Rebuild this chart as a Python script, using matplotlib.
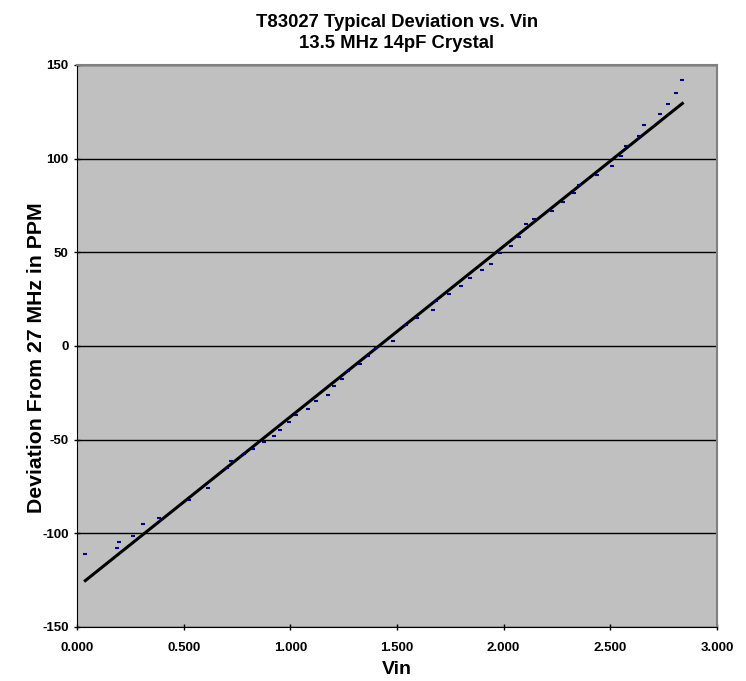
import numpy as np
import matplotlib.pyplot as plt

plt.rcParams['font.family'] = ['Liberation Sans', 'DejaVu Sans']
plt.rcParams['font.weight'] = 'bold'
plt.rcParams['axes.unicode_minus'] = False

# measured points (Vin, deviation in PPM)
vin = [0.039, 0.188, 0.197, 0.264, 0.308, 0.384, 0.525, 0.616, 0.702, 0.724,
       0.781, 0.824, 0.875, 0.924, 0.953, 0.994, 1.028, 1.084, 1.122, 1.178,
       1.203, 1.244, 1.271, 1.328, 1.366, 1.403, 1.483, 1.542, 1.595, 1.669,
       1.683, 1.742, 1.802, 1.844, 1.897, 1.941, 1.983, 2.034, 2.071, 2.106,
       2.144, 2.227, 2.280, 2.332, 2.354, 2.438, 2.507, 2.552, 2.575, 2.636,
       2.660, 2.733, 2.770, 2.807, 2.838]
ppm = [-111.1, -107.9, -104.8, -101.6, -95.0, -92.0, -82.2, -75.6, -65.1, -61.3,
       -57.8, -54.8, -51.4, -48.0, -44.6, -40.7, -37.1, -33.4, -29.6, -25.9,
       -21.6, -17.8, -13.6, -9.8, -5.5, -1.2, 2.5, 11.1, 14.9, 19.4,
       23.9, 27.8, 32.1, 36.4, 40.8, 44.0, 49.5, 53.5, 58.2, 65.1,
       67.6, 72.1, 76.9, 81.5, 86.1, 91.5, 96.1, 101.4, 106.8, 112.3,
       118.0, 123.9, 129.4, 135.1, 141.8]

x_ticks = [0.0, 0.5, 1.0, 1.5, 2.0, 2.5, 3.0]
y_ticks = [-150, -100, -50, 0, 50, 100, 150]

fig = plt.figure(figsize=(7.46, 6.81), dpi=100)
ax = fig.add_axes([0.1032, 0.0793, 0.8578, 0.8253])
ax.set_facecolor('#c0c0c0')

# linear trendline
k, b = np.polyfit(vin, ppm, 1)
xs = np.array([vin[0], vin[-1]])
ax.plot(xs, k * xs + b, color='black', lw=2.2, zorder=3)

ax.plot(vin, ppm, ls='none', marker='_', markersize=3, markeredgewidth=1.5,
        color='#000080', zorder=4)

ax.set_xlim(0, 3)
ax.set_ylim(-150, 150)
ax.set_xticks(x_ticks)
ax.set_xticklabels(['%.3f' % v for v in x_ticks])
ax.set_yticks(y_ticks)
ax.yaxis.grid(True, color='black', lw=1)
ax.set_axisbelow(True)
ax.tick_params(direction='inout', length=5, width=1, labelsize=9.5)
ax.tick_params(axis='x', pad=8)
for lab in ax.get_xticklabels() + ax.get_yticklabels():
    lab.set_fontweight('bold')

for s in ['top', 'right']:
    ax.spines[s].set_color('#808080')
    ax.spines[s].set_linewidth(1.5)
for s in ['left', 'bottom']:
    ax.spines[s].set_color('black')

ax.set_xlabel('Vin', fontsize=14, fontweight='bold', labelpad=5)
ax.set_ylabel('Deviation From 27 MHz in PPM', fontsize=15.3, fontweight='bold')
ax.yaxis.set_label_coords(-0.048, 0.48)
ax.set_title('T83027 Typical Deviation vs. Vin\n13.5 MHz 14pF Crystal',
             fontsize=13.3, fontweight='bold', pad=12, linespacing=1.3)

fig.savefig('out.png', dpi=100)
